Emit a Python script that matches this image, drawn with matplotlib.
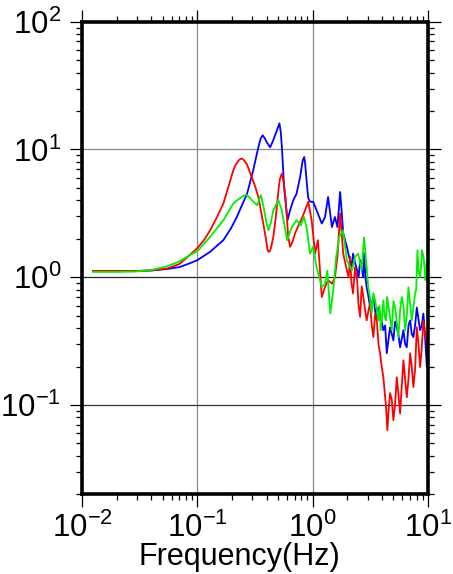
import matplotlib
matplotlib.use('Agg')
import matplotlib.pyplot as plt

plt.rcParams['font.family'] = ['Liberation Sans', 'DejaVu Sans']
plt.rcParams['mathtext.fontset'] = 'custom'
plt.rcParams['mathtext.rm'] = 'Liberation Sans'
plt.rcParams['mathtext.it'] = 'Liberation Sans:italic'
plt.rcParams['mathtext.bf'] = 'Liberation Sans:bold'

# ---------------- data (frequency in Hz, spectral ratio) ----------------
red_f = [0.0125, 0.02, 0.03, 0.04, 0.055, 0.07, 0.085, 0.1, 0.115, 0.129, 0.148, 0.168,
         0.186, 0.205, 0.215, 0.232, 0.243, 0.255, 0.27, 0.296, 0.318, 0.338, 0.356, 0.373,
         0.395, 0.405, 0.414, 0.425, 0.435, 0.456, 0.48, 0.505, 0.52, 0.54, 0.56, 0.58,
         0.614, 0.637, 0.67, 0.703, 0.74, 0.778, 0.82, 0.859, 0.915, 0.98, 1.05, 1.11,
         1.2, 1.28, 1.36, 1.47, 1.56, 1.64, 1.73, 1.84, 1.98, 2.11, 2.24, 2.43, 2.58,
         2.75, 2.94, 3.15, 3.36, 3.60, 3.84, 4.10, 4.33, 4.44, 4.69, 5.01, 5.36, 5.73,
         6.12, 6.55, 7.00, 7.47, 8.00, 8.54, 9.12, 9.77,
         2.05, 2.17, 2.33, 2.5, 2.66, 2.85, 3.05, 3.25, 3.48, 3.72, 3.97, 4.2, 4.55,
         4.85, 5.18, 5.55, 5.92, 6.33, 6.77, 7.23, 7.73, 8.27, 8.83, 9.45, 10.0]
red_v = [1.12, 1.12, 1.12, 1.13, 1.17, 1.27, 1.48, 1.69, 1.97, 2.33, 2.95, 3.77,
         5.1, 6.87, 7.6, 8.35, 8.5, 8.2, 7.6, 6.09, 5.1, 4.25, 3.3, 2.63,
         1.95, 1.65, 1.58, 1.6, 1.7, 2.07, 3.0, 4.79, 5.9, 6.46, 5.6, 4.25,
         2.07, 1.73, 1.9, 2.20, 2.45, 2.71, 3.0, 3.34, 3.89, 2.79, 1.53, 1.95,
         0.70, 0.84, 0.95, 0.89, 1.0, 1.44, 3.15, 1.53, 1.13, 1.44, 0.745, 0.95, 0.49,
         0.70, 0.46, 0.63, 0.34, 0.46, 0.254, 0.165, 0.096, 0.0635, 0.124, 0.076, 0.165, 0.086,
         0.224, 0.115, 0.254, 0.138, 0.406, 0.198, 0.46, 0.305,
         1.0, 0.9, 1.2, 0.6, 0.85, 0.55, 0.55, 0.42, 0.52, 0.30, 0.2, 0.13, 0.09,
         0.11, 0.1, 0.12, 0.14, 0.16, 0.16, 0.2, 0.19, 0.3, 0.28, 0.36, 0.25]

blue_f = [0.0125, 0.02, 0.03, 0.04, 0.055, 0.07, 0.085, 0.1, 0.129, 0.168, 0.195, 0.22,
          0.245, 0.27, 0.305, 0.338, 0.355, 0.369, 0.385, 0.4, 0.428, 0.45, 0.472, 0.495,
          0.515, 0.53, 0.543, 0.565, 0.605, 0.637, 0.68, 0.725, 0.778, 0.82, 0.845, 0.86,
          0.89, 0.915, 0.95, 1.01, 1.06, 1.11, 1.2, 1.28, 1.36, 1.47, 1.56, 1.64, 1.73,
          1.79, 1.84, 1.98, 2.11, 2.24, 2.43, 2.58, 2.74, 2.79, 2.94, 3.15, 3.36, 3.60,
          3.84, 4.10, 4.39, 4.69, 5.01, 5.36, 5.73, 6.12, 6.55, 7.00, 7.47, 8.00, 8.54,
          9.12, 9.77,
          2.05, 2.17, 2.33, 2.5, 2.66, 2.87, 3.05, 3.25, 3.48, 3.72, 3.97, 4.25, 4.55,
          4.85, 5.18, 5.55, 5.92, 6.33, 6.77, 7.23, 7.73, 8.27, 8.83, 9.45, 10.0]
blue_v = [1.12, 1.12, 1.12, 1.13, 1.16, 1.2, 1.28, 1.36, 1.58, 1.95, 2.4, 2.96,
          3.7, 4.51, 6.87, 10.4, 12.3, 12.9, 12.2, 11.4, 10.4, 11.5, 12.9, 14.5,
          16.0, 13.5, 9.86, 5.09, 2.79, 3.34, 4.01, 4.51, 6.09, 8.23, 8.73, 7.8,
          5.44, 4.15, 3.9, 3.89, 3.5, 3.15, 2.63, 2.96, 4.25, 2.47, 2.96, 2.47, 4.65,
          3.15, 2.20, 1.73, 1.36, 1.53, 1.13, 1.36, 1.0, 1.54, 0.835, 0.58, 0.70, 0.46,
          0.52, 0.385, 0.254, 0.406, 0.32, 0.406, 0.283, 0.385, 0.283, 0.46, 0.34, 0.58, 0.385,
          0.52, 0.198,
          1.5, 1.2, 1.3, 1.0, 1.2, 1.0, 0.7, 0.62, 0.55, 0.58, 0.45, 0.42, 0.33,
          0.36, 0.45, 0.35, 0.33, 0.3, 0.42, 0.36, 0.42, 0.47, 0.42, 0.33, 0.4]

green_f = [0.0125, 0.02, 0.03, 0.04, 0.055, 0.07, 0.085, 0.1, 0.129, 0.168, 0.205, 0.225,
           0.243, 0.26, 0.27, 0.285, 0.296, 0.33, 0.345, 0.357, 0.38, 0.396, 0.414, 0.435,
           0.456, 0.505, 0.54, 0.6, 0.66, 0.725, 0.79, 0.84, 0.89, 0.948, 1.01, 1.08, 1.2,
           1.28, 1.34, 1.42, 1.51, 1.6, 1.7, 1.83, 1.98, 2.19, 2.33, 2.48, 2.66, 2.79,
           2.94, 3.03, 3.25, 3.48, 3.71, 3.89, 4.10, 4.33, 4.5, 4.85, 5.19, 5.54, 5.92,
           6.34, 6.77, 7.24, 7.74, 8.1, 8.54, 8.88, 9.5, 9.77,
           3.14, 3.36, 3.6, 3.8, 4.0, 4.2, 4.42, 4.67, 5.02, 5.36, 5.73, 6.12, 6.55,
           7.0, 7.5, 7.9, 8.3, 8.7, 9.2, 9.65, 10.0]
green_v = [1.1, 1.1, 1.11, 1.14, 1.22, 1.33, 1.48, 1.60, 2.07, 2.79, 3.77, 4.05,
           4.25, 4.4, 4.38, 4.2, 4.01, 3.66, 4.1, 4.38, 3.34, 2.7, 2.33, 2.7,
           3.34, 4.01, 3.34, 1.95, 2.47, 2.79, 2.55, 2.96, 2.40, 1.53, 1.73, 1.20, 0.84,
           0.89, 1.13, 0.52, 0.79, 1.44, 2.07, 2.33, 1.36, 1.13, 1.44, 1.53, 1.13, 2.05,
           1.20, 0.835, 0.52, 0.66, 0.46, 0.385, 0.66, 0.46, 0.626, 0.385, 0.58, 0.34, 0.70,
           0.385, 0.835, 0.46, 0.75, 1.63, 1.0, 1.63, 0.95, 1.36,
           0.7, 0.75, 0.55, 0.6, 0.5, 0.5, 0.7, 0.5, 0.65, 0.45, 0.55, 0.6, 0.5,
           0.62, 0.6, 0.8, 1.1, 1.2, 1.4, 1.1, 1.3]

x_ticks = [0.01, 0.1, 1, 10]
x_labels = [r'$10^{-2}$', r'$10^{-1}$', r'$10^{0}$', r'$10^{1}$']
y_ticks = [0.1, 1, 10, 100]
y_labels = [r'$10^{-1}$', r'$10^{0}$', r'$10^{1}$', r'$10^{2}$']
x_grid = [0.1, 1]
y_grid = [10, 1, 0.1]
y_grid_colors = ['#8a8a8a', '#222222', '#333333']


def ordered(f, v):
    pairs = sorted(zip(f, v))
    return [p[0] for p in pairs], [p[1] for p in pairs]


# ---------------- figure ----------------
fig = plt.figure(figsize=(4.53, 5.74), dpi=100)
ax = fig.add_axes([82 / 453, 1 - 494.3 / 574, 346 / 453, 472.6 / 574])
ax.set_xscale('log')
ax.set_yscale('log')
ax.set_xlim(0.01, 10)
ax.set_ylim(0.02, 100)

for xg in x_grid:
    ax.axvline(xg, color='#8a8a8a', lw=0.9, zorder=1)
for yg, c in zip(y_grid, y_grid_colors):
    ax.axhline(yg, color=c, lw=0.9, zorder=1)

ax.plot(*ordered(blue_f, blue_v), color='#0000ff', lw=1.3, zorder=3)
ax.plot(*ordered(red_f, red_v), color='#ff0000', lw=1.3, zorder=3)
ax.plot(*ordered(green_f, green_v), color='#00f000', lw=1.3, zorder=3)

ax.set_xticks(x_ticks)
ax.set_xticklabels(x_labels)
ax.set_yticks(y_ticks)
ax.set_yticklabels(y_labels)
ax.tick_params(which='both', direction='out', top=True, right=True,
               labeltop=False, labelright=False, color='black')
ax.tick_params(which='major', length=9, width=0.9, labelsize=22.5, pad=4)
ax.tick_params(which='minor', length=4.5, width=0.9)
ax.tick_params(axis='y', which='major', pad=6)

for s in ax.spines.values():
    s.set_linewidth(2.6)
    s.set_zorder(5)

ax.set_xlabel('Frequency(Hz)', fontsize=22)
ax.xaxis.set_label_coords(0.454, -0.150)
ax.xaxis.label.set_va('baseline')

fig.savefig('out.png', dpi=100)
